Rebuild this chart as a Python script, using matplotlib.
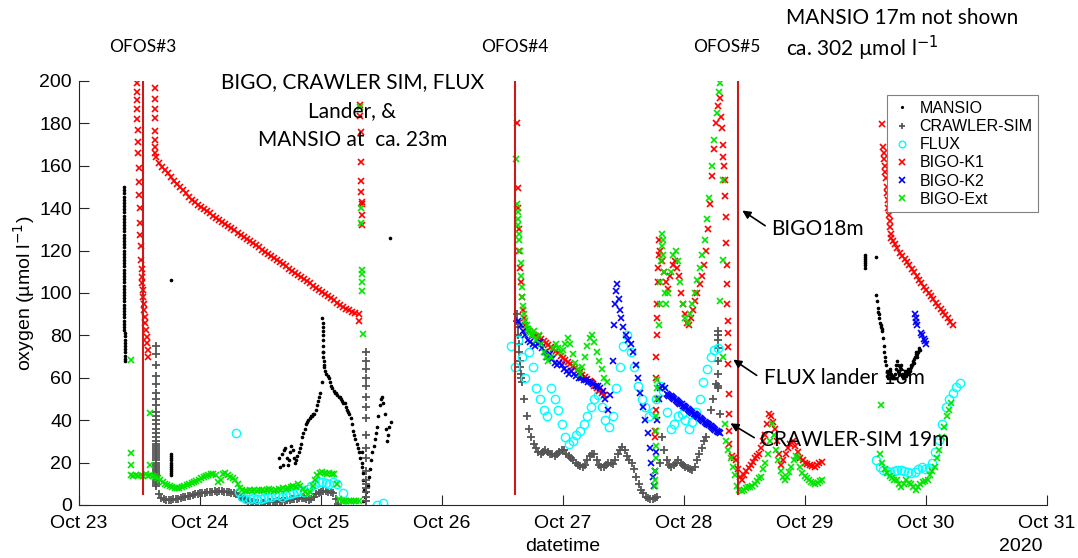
import numpy as np
import matplotlib.pyplot as plt
import matplotlib.dates as mdates
from datetime import datetime

# time is given in days after 23 Oct 2020 00:00, oxygen in umol/l
START = datetime(2020, 10, 23)


def even(t0, t1, vals):
    # samples logged at a constant rate between t0 and t1
    return list(np.linspace(t0, t1, len(vals))), list(vals)


# ---------------- MANSIO ----------------
mansio_col_v = [150, 148.5, 147, 145.5, 144, 142.5, 141, 139.5, 138, 136.5, 135, 133.5, 132,
                130.5, 129, 127.5, 126, 124.5, 123, 121.5, 120, 118.5, 117, 115.5, 114, 112.5,
                111, 109.5, 108, 106.5, 105, 103.5, 102, 100.5, 99, 97.5, 96, 94.5, 93, 91.5,
                90, 88.5, 87, 85.5, 84, 82.5, 81, 79.5, 78, 76.5, 75, 73.5, 72, 70.5, 69, 68]
mansio_bits_t = [0.757, 0.760, 0.760, 0.760, 0.760, 0.760, 0.760, 0.760, 0.760, 0.760, 0.760,
                 0.760, 2.57, 6.50, 6.50, 6.50, 6.50, 6.50, 6.50, 6.50, 6.585]
mansio_bits_v = [106, 24, 23, 22, 21, 20, 19, 18, 17, 16, 15, 14, 126, 118, 117, 116, 115,
                 114, 113, 112, 117]
mansio_a = [22, 18, 24, 19, 26, 27, 22, 19, 21, 25, 28, 26, 22, 20, 21, 23, 25, 27, 29, 32,
            34, 36, 38, 39, 40, 41, 42, 42, 43, 43, 45, 47, 49, 51, 53, 58, 72, 65, 63, 62,
            61, 60, 58, 56, 55, 54, 53, 53, 52, 51, 51, 50, 49, 48, 48, 46, 45, 44, 43, 41,
            38, 35, 33, 31, 29, 27, 25, 22, 18, 12, 7, 4, 6, 9, 13, 17, 21, 25, 28, 31,
            34, 37, 42, 47, 50, 51, 48, 43, 36, 30, 33, 37, 39]
mansio_spike_t = [2.012, 2.013, 2.014, 2.015, 2.016, 2.017, 2.018, 2.019, 2.020, 2.021,
                  2.022, 2.335, 2.340, 2.345, 2.350]
mansio_spike_v = [88, 86, 84, 82, 80, 78, 75, 72, 70, 68, 66, 25, 20, 15, 2]
mansio_b = [99, 96, 93, 91, 90, 88, 86, 85, 84, 83, 82, 79, 75, 72, 70, 68, 66, 63, 61, 60,
            62, 63, 64, 63, 62, 61, 60, 60, 61, 60, 60, 62, 64, 66, 68, 66, 63, 62, 63, 65,
            66, 64, 62, 61, 60, 61, 62, 63, 62, 61, 62, 63, 64, 63, 62, 63, 64, 65, 66, 66,
            67, 68, 67, 69, 70, 71, 72, 71, 70, 72, 73, 74, 73]

# ---------------- CRAWLER-SIM ----------------
crawler_col1_v = [75, 71, 66, 61, 57, 53, 50, 47, 44, 42, 40, 38, 36, 34, 32, 30, 29, 28,
                  27, 26, 25, 24, 23, 22, 21, 20, 19, 18, 17, 16, 15, 14, 13, 12, 11, 10]
crawler_a = [9, 5, 3.5, 2.8, 2.5, 2.3, 2.4, 2.6, 2.8, 3, 3.3, 3.6, 3.9, 4.1, 4.4, 4.7, 5.0,
             5.3, 5.5, 5.7, 5.8, 6.0, 6.2, 6.3, 6.4, 6.3, 6.4, 6.5, 6.3, 6.0, 6.2, 5.8, 5.5,
             5.0, 4.3, 3.6, 3.0, 2.5, 2.0, 1.6, 1.3, 1.1, 1.0, 1.0, 1.1, 1.2, 1.3, 1.4, 1.5,
             1.6, 1.7, 1.6, 1.8, 2.0, 2.2, 2.4, 2.6, 2.8, 3.0, 3.3, 3.5, 3.2, 2.8, 2.5, 3.0,
             4.0, 5.0, 5.8, 6.2, 6.4, 6.5, 6.3, 6.0, 5.5, 3.0, 0.5]
crawler_col2_v = [72, 68, 64, 60, 56, 51, 46, 41, 33, 27, 22, 16, 12, 10, 8, 6, 4, 2]
crawler_col3_v = [90, 87, 84, 80, 76, 72, 68, 65, 62, 60]
crawler_b = [58, 50, 42, 36, 32, 29, 27, 25, 24, 25, 26, 25, 24, 24, 23, 24, 25, 26, 26, 24,
             23, 22, 21, 20, 19, 18.5, 18, 19, 21, 23, 24, 24, 21, 19, 18, 18, 19, 20, 19.6,
             19.5, 21, 24, 26, 27.4, 26, 23, 21, 20, 17, 13, 10, 7, 5.5, 4, 3.5, 3, 3, 3.5,
             4, 20, 32, 26, 21, 19, 18, 19, 20, 21, 20, 19, 18, 17.5, 17, 16.5, 18, 21, 24,
             27, 30, 32, 38, 45, 50, 57, 55, 43]
crawler_col4_v = [82, 80, 78, 74, 68, 62, 56]

# ---------------- FLUX ----------------
flux_pts_t = [1.30, 2.18, 2.23, 2.46, 2.51]
flux_pts_v = [34, 5.5, 0.8, 0, 0.8]
flux_a = [6, 4, 3, 3, 3.5, 3, 3, 3.5, 4, 4, 4.5, 4.5, 4, 4.5, 5, 5.5, 6, 7, 6, 7.5, 9, 10,
          11, 11, 10.5, 10, 11, 10]
flux_b = [75, 65, 78, 70, 60, 72, 65, 55, 50, 45, 42, 55, 50, 45, 38, 32, 29, 30, 33, 35,
          38, 42, 46, 50, 52, 46, 40, 37, 42, 55, 65, 75, 80, 72, 65, 56, 50, 46, 42, 44,
          50, 56, 54, 44, 36, 38, 42, 43, 40, 36, 39, 44, 50, 58, 64, 70, 73, 74]
flux_c = [21, 18, 16.5, 16, 15.7, 16, 16.5, 16.5, 16, 15.5, 15, 15.5, 17, 18, 17, 17.5,
          20, 25, 30.5, 38, 46, 50, 53, 55.5, 57.5]

# ---------------- BIGO-K1 ----------------
k1_col1_t = [0.477, 0.477, 0.478, 0.479, 0.481, 0.484, 0.487, 0.490, 0.493, 0.496, 0.499,
             0.502, 0.505, 0.508, 0.511, 0.514, 0.517, 0.520, 0.523, 0.526, 0.530, 0.534,
             0.538, 0.543, 0.548, 0.553, 0.558, 0.563, 0.568, 0.573]
k1_col1_v = [199, 195, 191, 187, 182, 177, 171, 166, 159, 152.5, 146, 140, 133, 127.5, 122,
             115.5, 111.5, 107.7, 104.6, 101.4, 98.3, 95, 92, 88.8, 85.7, 82.5, 79.4, 76.3,
             73, 70]
k1_col2_v = [196.5, 191.5, 187, 182.5, 176.5, 172, 169, 166]
k1_a = [164, 161.5, 159.5, 158, 156.5, 154.5, 153, 151.5, 150, 148.5, 147, 145.5, 144, 143,
        141.5, 140.5, 139.5, 138.5, 137.5, 136.5, 135.5, 134.5, 133.5, 132.5, 131.5, 130.5,
        129.5, 128.5, 127.5, 126.5, 125.5, 124.5, 123.5, 122.5, 121.5, 120.5, 119.5, 118.5,
        117.5, 116.5, 115.5, 114.5, 113.5, 112.5, 111.5, 110.5, 109.5, 108.5, 107.5, 106.5,
        105.5, 104.5, 103.5, 102.5, 101.5, 100.5, 99.5, 98.5, 97.5, 96.5, 95.5, 94.5, 93.5,
        92.5, 91.8, 91.2, 90.6, 90]
k1_col3_t = [2.310, 2.325, 2.326, 2.328, 2.330, 2.332, 2.334, 2.336, 2.338, 2.340, 2.342]
k1_col3_v = [87, 188.7, 183.7, 176, 162, 153, 147.6, 143, 142, 137, 132]
k1_b_t = [3.620, 3.625, 3.630, 3.635, 3.640, 3.645, 3.650, 3.660, 3.670, 3.680, 3.690,
          3.700, 3.720, 3.740, 3.760, 3.780]
k1_b_v = [180, 149.5, 140, 130, 120, 112, 105, 98, 92, 88, 85, 83, 82, 80, 80, 79.5]
k1_c = [79.5, 78.5, 77.5, 76.5, 75.5, 74.5, 73.5, 72.5, 71.5, 70.5, 69.5, 68.5, 67.5, 66.5,
        65.5, 64.5, 63.5, 62.5, 61.5, 60.5, 59.5, 58.5, 57.5, 56, 55, 54, 53, 52]
k1_d_t = [4.760, 4.762, 4.765, 4.768, 4.771, 4.774, 4.777, 4.780, 4.784, 4.788, 4.792,
          4.796, 4.800]
k1_d_v = [32, 35, 45, 60, 70, 80, 88, 95, 105, 112, 118, 125, 120]
k1_e = [115, 110, 105, 102, 108, 113, 115, 112, 108, 100, 95, 90, 86, 85, 88, 92, 96, 100,
        104, 108, 113, 120, 130, 142, 155, 168, 180, 188, 192]
k1_f_t = [5.310, 5.315, 5.320, 5.325, 5.330, 5.335, 5.340, 5.345, 5.350, 5.352, 5.355,
          5.358, 5.360, 5.362, 5.364, 5.366, 5.368, 5.370, 5.372, 5.374]
k1_f_v = [183, 178, 170, 164, 160, 153.5, 145.6, 136, 123.6, 113.4, 104, 95, 87, 81, 74.5,
          66.6, 52.5, 43, 35, 29]
k1_g = [23, 22, 21, 17, 13, 12, 14, 16, 17.5, 19, 20.5, 22, 23, 24, 27, 30, 33, 38, 43, 42,
        39, 36, 30, 24, 19]
k1_h = [21, 24, 27, 29, 30, 28, 25, 22, 21, 20, 19.5, 19, 18.5, 18, 19, 20, 20.5]
k1_i_t = [6.636, 6.645, 6.650, 6.655, 6.660, 6.665, 6.670, 6.675, 6.680, 6.685, 6.690,
          6.695, 6.700, 6.705, 6.710, 6.715]
k1_i_v = [179.7, 169, 166, 163, 160, 157, 154, 150, 147, 144, 140, 137, 134, 131, 128, 126]
k1_j = [124.5, 123, 121, 119, 117.5, 116, 114.5, 113, 111.5, 110, 108, 106, 104.5, 103,
        101.5, 100, 98.5, 97, 95.5, 94, 92.5, 91, 89.5, 88, 86.5, 85]

# ---------------- BIGO-K2 ----------------
k2_a = [87, 85, 82, 80, 78, 77, 76, 75, 76, 77, 74, 72, 70, 71, 69, 67, 66, 67, 66, 64,
        63, 62, 63, 62, 61, 60, 60, 59, 59, 58, 58, 57, 56, 56, 55, 54, 50, 45, 52]
k2_b_t = [4.41, 4.42, 4.43, 4.44, 4.45, 4.46, 4.47, 4.48, 4.50, 4.52, 4.54, 4.56, 4.58,
          4.60, 4.62, 4.64, 4.66, 4.68, 4.70, 4.72, 4.73, 4.74, 4.75, 4.76, 4.77, 4.78,
          4.79, 4.80, 4.82, 4.84]
k2_b_v = [68, 85, 95, 101, 104, 97, 92, 88, 84, 80, 78, 76, 72, 66, 60, 53, 46, 40, 34,
          27, 20, 13, 9, 16, 25, 40, 50, 55, 56, 55]
k2_c = [52.5, 52.1, 51.6, 51.2, 50.8, 50.3, 49.9, 49.5, 49.1, 48.6, 48.2, 47.8, 47.4, 46.9,
        46.5, 46.1, 45.7, 45.2, 44.8, 44.4, 44.0, 43.5, 43.1, 42.7, 42.3, 41.8, 41.4, 41.0,
        40.6, 40.1, 39.7, 39.3, 38.9, 38.4, 38.0, 37.6, 37.2, 36.7, 36.3, 35.9, 35.5, 35.0,
        34.6, 34.2, 33.8]
k2_d_t = [6.910, 6.915, 6.920, 6.930, 6.960, 6.970, 6.980, 6.990, 7.000]
k2_d_v = [90, 88, 86.5, 85, 81, 80, 78.5, 77.5, 76]

# ---------------- BIGO-Ext ----------------
ext_pts_t = [0.427, 0.427, 0.427, 0.590, 0.590, 2.325, 2.332, 2.334, 2.336, 2.338, 2.340,
             2.342, 2.345, 3.615, 5.300, 5.320, 5.320, 5.320, 5.340, 6.625]
ext_pts_v = [68.2, 24.3, 18.8, 43.6, 18.8, 187.7, 140, 133, 111, 109, 105, 101, 80.7, 163,
             96, 153.5, 115.7, 70, 38.4, 47]
ext_a = [14, 13.5, 14, 13.5, 14, 13.5, 14.5, 13.5, 14, 13.5, 13, 12.5, 12, 11, 10, 9.5, 9,
         8.5, 8, 8, 8, 8.5, 9, 9.5, 10, 10.5, 11, 11.5, 12, 12.5, 13, 13.5, 14, 14.5, 14.5,
         14, 11, 12, 14.5, 15, 14, 13, 12.5, 12, 10, 8, 7, 6.5, 6.5, 7, 6.5, 7, 6.5, 7, 7,
         6.5, 7, 7.5, 7, 6.5, 7, 7.5, 7, 8, 7.5, 8, 8.5, 9, 8.5, 10, 9, 7.5, 6, 5, 6, 9, 12,
         14, 15, 15.5, 15, 14.5, 15, 14.5, 14.5, 10, 3, 2, 2, 2, 2, 2, 2, 2, 2]
ext_b_t = [3.620, 3.625, 3.630, 3.632, 3.635, 3.640, 3.645, 3.650, 3.655, 3.660, 3.665,
           3.670, 3.680, 3.690, 3.700, 3.710, 3.720, 3.730, 3.740, 3.750]
ext_b_v = [142, 138, 135, 132, 128, 125, 120, 114, 108, 103, 98, 94, 90, 87, 85, 83, 82,
           81, 80, 80]
ext_c = [82, 78, 80, 76, 72, 70, 68, 70, 74, 76, 74, 72, 73, 76, 79, 76, 71, 67, 64, 62,
         65, 70, 75, 79, 80, 77, 72, 68, 64, 60, 58]
ext_d_t = [4.760, 4.762, 4.764, 4.766, 4.768, 4.770, 4.772, 4.774, 4.776, 4.778]
ext_d_v = [9, 12, 16, 22, 28, 35, 42, 50, 55, 59]
ext_e_t = [4.790, 4.800, 4.805, 4.810, 4.815, 4.820, 4.825, 4.830, 4.835, 4.840, 4.850,
           4.870, 4.890, 4.910, 4.930, 4.950, 4.970, 4.990, 5.010, 5.030, 5.050, 5.070,
           5.090, 5.110, 5.130, 5.150, 5.170, 5.190, 5.210, 5.230, 5.250, 5.270, 5.290,
           5.300]
ext_e_v = [85, 95, 105, 115, 122, 128, 125, 118, 110, 100, 95, 100, 110, 118, 120, 115, 105,
           95, 88, 86, 90, 95, 100, 106, 112, 118, 125, 135, 145, 160, 172, 185, 195, 199]
ext_f = [30, 26, 22, 18, 14, 9, 7, 6.5, 7, 8, 8.5, 8.6, 9, 10, 11.5, 12.5, 13.3, 17, 20, 24,
         30, 38, 33, 26, 21, 16, 13, 11.8, 13, 15.5, 18, 21, 23, 22, 18, 15, 13.5, 12.5,
         11.8, 11, 10.5, 10, 10.5, 11.2, 11.8]
ext_g = [24, 20, 17, 15, 13.5, 12.5, 12, 11.8, 10, 8.6, 10, 11.8, 10.5, 10, 8.5, 7, 8.5, 10,
         11, 11.5, 11.8, 14, 16, 18, 22, 26, 32, 37, 42, 45, 48]

ofos_t = [0.531, 3.600, 5.446]
ofos_names = ['OFOS#3', 'OFOS#4', 'OFOS#5']


def join(*parts):
    t, v = [], []
    for pt, pv in parts:
        t += list(pt)
        v += list(pv)
    return mdates.date2num(START) + np.array(t), np.array(v, dtype=float)


mansio = join((list(np.linspace(0.371, 0.377, len(mansio_col_v))), mansio_col_v),
              (mansio_bits_t, mansio_bits_v),
              even(1.655, 2.575, mansio_a), (mansio_spike_t, mansio_spike_v),
              even(6.59, 6.95, mansio_b))
crawler = join(([0.633] * len(crawler_col1_v), crawler_col1_v), even(0.64, 2.14, crawler_a),
               ([2.369] * len(crawler_col2_v), crawler_col2_v),
               (list(np.linspace(3.62, 3.655, len(crawler_col3_v))), crawler_col3_v),
               even(3.66, 5.30, crawler_b),
               ([5.285] * len(crawler_col4_v), crawler_col4_v))
flux = join((flux_pts_t, flux_pts_v), even(1.32, 2.13, flux_a), even(3.57, 5.28, flux_b),
            even(6.59, 7.28, flux_c))
k1 = join((k1_col1_t, k1_col1_v), ([0.625] * len(k1_col2_v), k1_col2_v),
          even(0.635, 2.31, k1_a), (k1_col3_t, k1_col3_v), (k1_b_t, k1_b_v),
          even(3.80, 4.34, k1_c), (k1_d_t, k1_d_v), even(4.82, 5.30, k1_e),
          (k1_f_t, k1_f_v), even(5.40, 5.80, k1_g), even(5.82, 6.14, k1_h),
          (k1_i_t, k1_i_v), even(6.725, 7.22, k1_j))
k2 = join(even(3.63, 4.39, k2_a), (k2_b_t, k2_b_v), even(4.86, 5.30, k2_c),
          (k2_d_t, k2_d_v))
ext = join((ext_pts_t, ext_pts_v), even(0.43, 2.31, ext_a), (ext_b_t, ext_b_v),
           even(3.76, 4.36, ext_c), (ext_d_t, ext_d_v), (ext_e_t, ext_e_v),
           even(5.35, 6.14, ext_f), even(6.62, 7.21, ext_g))

tick_font = 'Liberation Sans'
note_font = 'Lato'
plt.rcParams['font.family'] = [tick_font, 'DejaVu Sans']

fig = plt.figure(figsize=(10.78, 5.58), dpi=100)
ax = fig.add_axes([0.0733, 0.095, 0.8979, 0.7599])

ax.plot(*mansio, '.', color='black', ms=3.2, label='MANSIO')
ax.plot(*crawler, '+', color='#555555', ms=6, mew=1.3, label='CRAWLER-SIM')
ax.plot(*flux, 'o', color='cyan', mfc='none', ms=6, mew=1, label='FLUX')
ax.plot(*k1, 'x', color='red', ms=5, mew=1.2, label='BIGO-K1')
ax.plot(*k2, 'x', color='blue', ms=5, mew=1.2, label='BIGO-K2')
ax.plot(*ext, 'x', color='#00e600', ms=5, mew=1.2, label='BIGO-Ext')

x0 = mdates.date2num(START)
for t, name in zip(ofos_t, ofos_names):
    ax.plot([x0 + t, x0 + t], [5, 200], color='#cc1a1a', lw=1.5)
    dx = -0.09 if name == 'OFOS#5' else 0.0
    ax.text(x0 + t + dx, 216, name, ha='center', va='center', fontsize=12.5,
            family=note_font, clip_on=False)

ax.set_xlim(x0, x0 + 8)
ax.set_ylim(0, 200)
ax.set_xticks([x0 + i for i in range(9)])
ax.xaxis.set_major_formatter(mdates.DateFormatter('%b %d'))
ax.set_yticks(range(0, 201, 20))
for s in ['top', 'right']:
    ax.spines[s].set_visible(False)
for s in ['left', 'bottom']:
    ax.spines[s].set_color('#262626')
ax.tick_params(direction='in', length=7, width=0.8, labelsize=14, color='#262626')
ax.tick_params(axis='x', pad=7.5)
ax.tick_params(axis='y', pad=5)
ax.set_xlabel('datetime', fontsize=14, labelpad=4)
ax.set_ylabel('oxygen (µmol l$^{-1}$)', fontsize=14, labelpad=2)
ax.text(0.995, -0.079, '2020', transform=ax.transAxes, ha='right', va='top', fontsize=14)

leg = ax.legend(loc='upper right', bbox_to_anchor=(0.999, 0.985), fontsize=11.5,
                frameon=True, fancybox=False, edgecolor='#808080', framealpha=1,
                handlelength=1.2, handletextpad=0.5, labelspacing=0.2, borderpad=0.35,
                markerscale=0.8)
leg.get_frame().set_linewidth(0.8)

ax.text(x0 + 2.26, 185.8, 'BIGO, CRAWLER SIM, FLUX\nLander, &\nMANSIO at  ca. 23m',
        ha='center', va='center', fontsize=15, family=note_font, linespacing=1.55)
fig.text(786 / 1078, 1 - 18 / 558, 'MANSIO 17m not shown', ha='left', va='center',
         fontsize=15, family=note_font)
fig.text(786 / 1078, 1 - 48 / 558, 'ca. 302 µmol l$^{-1}$', ha='left', va='center',
         fontsize=15, family=note_font)

notes = [('BIGO18m', (5.463, 139.6), (5.69, 131), (5.72, 130.2)),
         ('FLUX lander 18m', (5.388, 69.3), (5.62, 60.4), (5.66, 59.9)),
         ('CRAWLER-SIM 19m', (5.364, 39.2), (5.60, 31.1), (5.63, 30.7))]
for label, head, tail, pos in notes:
    ax.annotate('', xy=(x0 + head[0], head[1]), xytext=(x0 + tail[0], tail[1]),
                arrowprops=dict(arrowstyle='-|>', color='black', lw=1.2, mutation_scale=12))
    ax.text(x0 + pos[0], pos[1], label, ha='left', va='center', fontsize=15,
            family=note_font)

fig.savefig('out.png', dpi=100)
